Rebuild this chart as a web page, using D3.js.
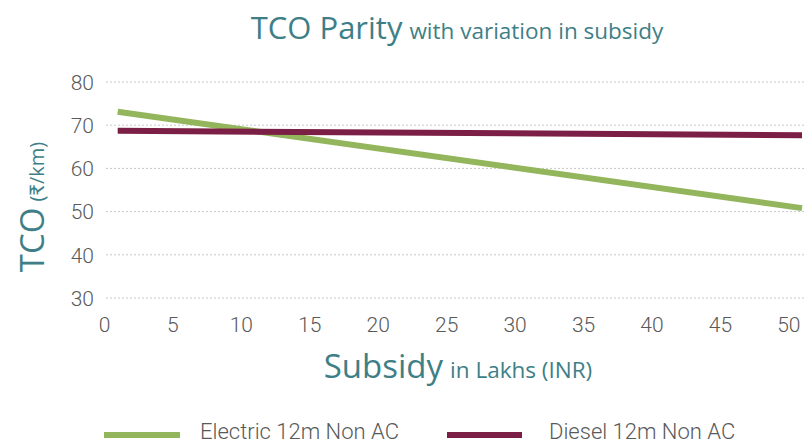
<!DOCTYPE html>
<html><head><meta charset="utf-8">
<script src="https://cdn.jsdelivr.net/npm/d3@7"></script>
<style>
body{margin:0;background:#fff;}
svg{display:block;}
</style></head>
<body>
<svg id="chart" width="805" height="445"></svg>
<script>
const subsidy = [1, 51];
const electric = [73.1, 50.8];
const diesel = [68.7, 67.7];
const xTicks = [0,5,10,15,20,25,30,35,40,45,50];
const yTicks = [30,40,50,60,70,80];
const seriesNames = ["Electric 12m Non AC", "Diesel 12m Non AC"];
const colors = ["#93b55b", "#7c1f46"];

const svg = d3.select("#chart");
const x = d3.scaleLinear().domain([0, 51]).range([104, 802]);
const y = d3.scaleLinear().domain([30, 80]).range([298, 82]);
const numFont = "Roboto, sans-serif";
const tFont = "'Open Sans', Lato, sans-serif";
const teal = "#3e7f87";
const gray = "#595959";

// grid
svg.append("g").selectAll("line").data(yTicks).join("line")
  .attr("x1", 106).attr("x2", 805)
  .attr("y1", d => y(d)).attr("y2", d => y(d))
  .attr("stroke", "#c8c8c8").attr("stroke-width", 1).attr("stroke-dasharray", "2,2");

// y axis labels
const yAxis = d3.axisLeft(y).tickValues(yTicks).tickSize(0).tickPadding(0);
const gy = svg.append("g").attr("transform", "translate(94,0)").call(yAxis);
gy.select(".domain").remove();
gy.selectAll("text").attr("font-family", numFont).attr("font-weight", 300).attr("font-size", 21).attr("fill", gray).attr("dy", "0.35em");

// x axis labels
const xAxis = d3.axisBottom(x).tickValues(xTicks).tickSize(0).tickPadding(0);
const gx = svg.append("g").attr("transform", "translate(0,317)").call(xAxis);
gx.select(".domain").remove();
gx.selectAll("text").attr("font-family", numFont).attr("font-weight", 300).attr("font-size", 21).attr("fill", gray).attr("dy", "0.71em");

// lines
const line = d3.line().x(d => x(d[0])).y(d => y(d[1]));
[electric, diesel].forEach((s, i) => {
  svg.append("path").datum(subsidy.map((v, j) => [v, s[j]]))
    .attr("d", line).attr("fill", "none")
    .attr("stroke", colors[i]).attr("stroke-width", 6);
});

// title
const title = svg.append("text").attr("x", 457).attr("y", 39).attr("text-anchor", "middle")
  .attr("font-family", tFont).attr("fill", teal);
title.append("tspan").attr("font-size", 31).text("TCO Parity");
title.append("tspan").attr("font-size", 22.5).attr("dx", 7).text("with variation in subsidy");

// x axis title
const xt = svg.append("text").attr("x", 458).attr("y", 378).attr("text-anchor", "middle")
  .attr("font-family", tFont).attr("fill", teal);
xt.append("tspan").attr("font-size", 33).text("Subsidy");
xt.append("tspan").attr("font-size", 22.5).attr("dx", 7).text("in Lakhs (INR)");

// y axis title
const yt = svg.append("text").attr("transform", "translate(44,207) rotate(-90)").attr("text-anchor", "middle")
  .attr("font-family", tFont).attr("fill", teal);
yt.append("tspan").attr("font-size", 33).text("TCO");
yt.append("tspan").attr("font-size", 20).attr("dx", 6).text("(₹/km)");

// legend
const leg = [{x1: 104, x2: 180, tx: 200}, {x1: 447, x2: 522, tx: 549}];
seriesNames.forEach((n, i) => {
  svg.append("line").attr("x1", leg[i].x1).attr("x2", leg[i].x2).attr("y1", 435).attr("y2", 435)
    .attr("stroke", colors[i]).attr("stroke-width", 6);
  svg.append("text").attr("x", leg[i].tx).attr("y", 439).attr("font-family", numFont).attr("font-weight", 300)
    .attr("font-size", 22).attr("fill", gray).text(n);
});
</script>
</body></html>
